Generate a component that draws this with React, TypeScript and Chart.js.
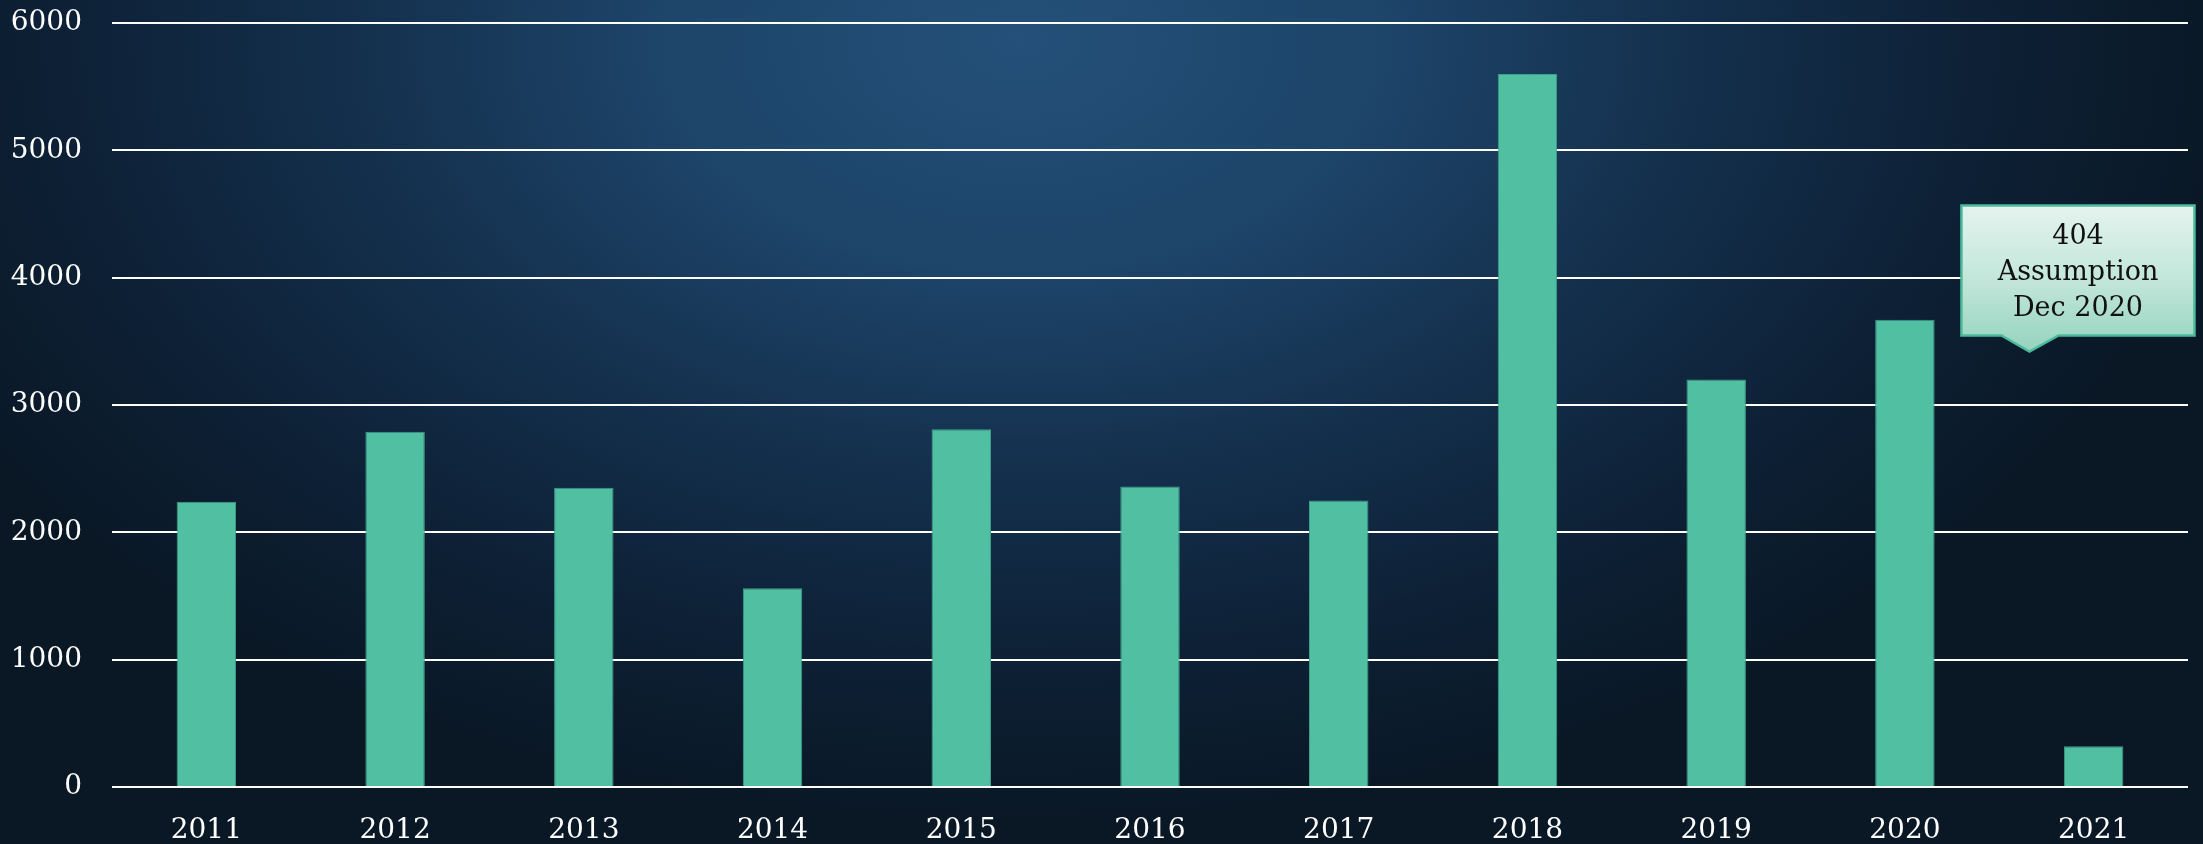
import React, { useEffect, useRef } from "react";
import { Chart, registerables } from "chart.js";

Chart.register(...registerables);

const years = ["2011", "2012", "2013", "2014", "2015", "2016", "2017", "2018", "2019", "2020", "2021"];
const counts = [2240, 2790, 2350, 1560, 2810, 2360, 2250, 5600, 3200, 3670, 320];
const yTicks = [0, 1000, 2000, 3000, 4000, 5000, 6000];
const calloutLines = ["404", "Assumption", "Dec 2020"];
const calloutAnchor = { index: 9.66, value: 3420 };

const FONT = "'DejaVu Serif', serif";

const backgroundPlugin = {
  id: "bg",
  beforeDraw(chart: any) {
    const { ctx, width, height } = chart;
    const sx = 1.55;
    const cx = 1020;
    ctx.save();
    ctx.fillStyle = "#0a1826";
    ctx.fillRect(0, 0, width, height);
    ctx.translate(cx, 40);
    ctx.scale(sx, 1);
    const g = ctx.createRadialGradient(0, 0, 0, 0, 0, 780);
    g.addColorStop(0, "#245079");
    g.addColorStop(0.3, "#1d4469");
    g.addColorStop(0.55, "#14304d");
    g.addColorStop(0.8, "#0d2035");
    g.addColorStop(1, "#0a1826");
    ctx.fillStyle = g;
    ctx.fillRect(-cx / sx - 10, -40, width / sx + 20, height);
    ctx.restore();
  },
};

const calloutPlugin = {
  id: "callout",
  afterDraw(chart: any) {
    const { ctx } = chart;
    const xs = chart.scales.x;
    const ys = chart.scales.y;
    const i0 = Math.floor(calloutAnchor.index);
    const frac = calloutAnchor.index - i0;
    const tipX = xs.getPixelForValue(i0) + frac * (xs.getPixelForValue(i0 + 1) - xs.getPixelForValue(i0));
    const tipY = ys.getPixelForValue(calloutAnchor.value);
    const left = tipX - 68;
    const right = tipX + 165;
    const bottom = tipY - 16;
    const top = bottom - 130;
    const pL = tipX - 28;
    const pR = tipX + 29;
    ctx.save();
    ctx.beginPath();
    ctx.moveTo(left, top);
    ctx.lineTo(right, top);
    ctx.lineTo(right, bottom);
    ctx.lineTo(pR, bottom);
    ctx.lineTo(tipX, tipY);
    ctx.lineTo(pL, bottom);
    ctx.lineTo(left, bottom);
    ctx.closePath();
    const g = ctx.createLinearGradient(0, top, 0, tipY);
    g.addColorStop(0, "#e4f3ee");
    g.addColorStop(0.5, "#c3e7da");
    g.addColorStop(1, "#95d3bf");
    ctx.fillStyle = g;
    ctx.fill();
    ctx.lineWidth = 2.5;
    ctx.strokeStyle = "#4cbb9c";
    ctx.stroke();
    ctx.fillStyle = "#111111";
    ctx.font = `27px ${FONT}`;
    ctx.textAlign = "center";
    ctx.textBaseline = "middle";
    const cx = (left + right) / 2;
    const startY = top + 31;
    calloutLines.forEach((t, k) => ctx.fillText(t, cx, startY + k * 36));
    ctx.restore();
  },
};

export default function App() {
  const ref = useRef<HTMLCanvasElement>(null);
  useEffect(() => {
    if (!ref.current) return;
    const chart = new Chart(ref.current, {
      type: "bar",
      data: {
        labels: years,
        datasets: [
          {
            data: counts,
            backgroundColor: "#50bfa2",
            borderColor: "#3e9f88",
            borderWidth: 1,
            categoryPercentage: 1,
            barPercentage: 0.315,
          },
        ],
      },
      options: {
        responsive: false,
        animation: false,
        layout: { padding: { left: 0, top: 23, right: 15, bottom: 0 } },
        plugins: { legend: { display: false }, tooltip: { enabled: false } },
        scales: {
          x: {
            grid: { display: false, drawTicks: false },
            border: { display: false },
            ticks: { color: "#ffffff", font: { family: FONT, size: 28 }, padding: 27, maxRotation: 0 },
            afterFit(scale: any) {
              scale.height = 57;
            },
          },
          y: {
            min: 0,
            max: 6000,
            afterBuildTicks(scale: any) {
              scale.ticks = yTicks.map((v) => ({ value: v }));
            },
            grid: { color: "#ffffff", lineWidth: 2, drawTicks: false },
            border: { display: false },
            ticks: {
              color: "#ffffff",
              font: { family: FONT, size: 28 },
              padding: 30,
              callback: (v: any) => String(v),
            },
            afterFit(scale: any) {
              scale.width = 112;
              scale.paddingTop = 0;
              scale.paddingBottom = 0;
            },
          },
        },
      },
      plugins: [backgroundPlugin, calloutPlugin],
    });
    return () => chart.destroy();
  }, []);
  return (
    <div style={{ position: "fixed", left: 0, top: 0, width: 2203, height: 844 }}>
      <canvas ref={ref} width={2203} height={844} style={{ display: "block" }} />
    </div>
  );
}
